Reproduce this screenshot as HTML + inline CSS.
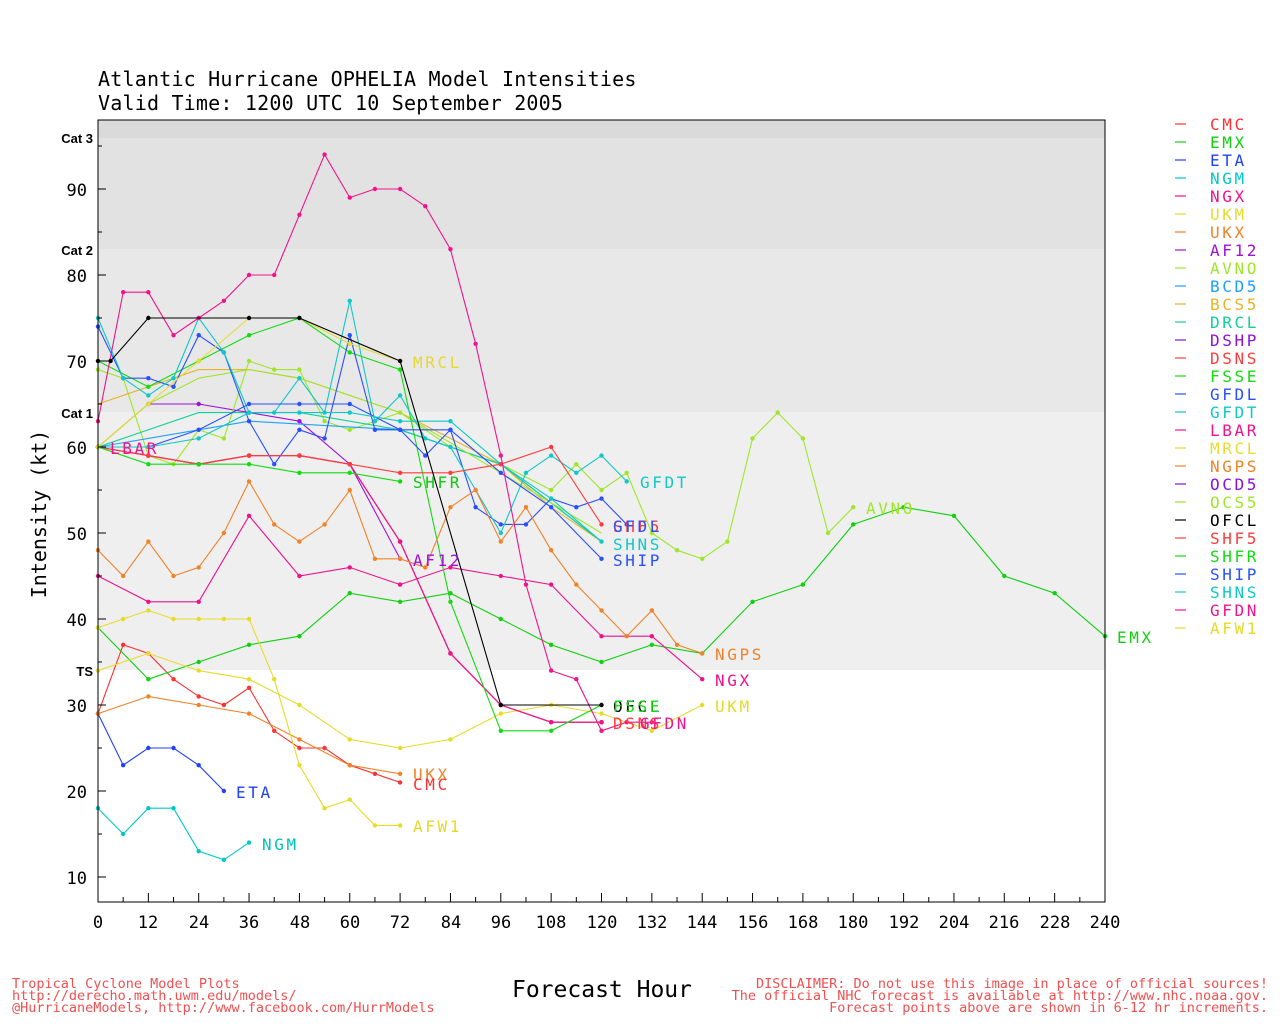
<!DOCTYPE html>
<html><head><meta charset="utf-8"><style>
body{margin:0;background:#fff}
svg{display:block;font-family:"DejaVu Sans Mono","Liberation Mono",monospace}
.lb{font-size:16px;letter-spacing:2.6px}
</style></head><body>
<svg id="s" width="1280" height="1024" xmlns="http://www.w3.org/2000/svg">
<rect width="1280" height="1024" fill="#fff"/>
<rect x="98" y="412" width="1007" height="258" fill="#efefef"/>
<rect x="98" y="249" width="1007" height="163" fill="#e8e8e8"/>
<rect x="98" y="138" width="1007" height="111" fill="#e2e2e2"/>
<rect x="98" y="120" width="1007" height="18" fill="#dadada"/>
<g id="lines"></g>
<rect x="98" y="120" width="1007" height="782" fill="none" stroke="#000" stroke-width="1"/>
<g font-size="17" fill="#000" text-anchor="end">
<text x="87" y="884">10</text><text x="87" y="798">20</text><text x="87" y="712">30</text><text x="87" y="626">40</text>
<text x="87" y="540">50</text><text x="87" y="454">60</text><text x="87" y="368">70</text><text x="87" y="282">80</text><text x="87" y="196">90</text>
</g>
<g font-size="13" font-weight="bold" text-anchor="end" font-family="Liberation Sans,sans-serif">
<text x="93" y="143">Cat 3</text><text x="93" y="255">Cat 2</text><text x="93" y="418">Cat 1</text><text x="93" y="676">TS</text>
</g>
<g id="ticks"></g>
<text x="98" y="86" font-size="20" letter-spacing="0.2">Atlantic Hurricane OPHELIA Model Intensities</text>
<text x="98" y="110" font-size="20" letter-spacing="0.2">Valid Time: 1200 UTC 10 September 2005</text>
<text transform="translate(46,514) rotate(-90)" font-size="20" text-anchor="middle">Intensity (kt)</text>
<text x="602" y="997" font-size="23" text-anchor="middle">Forecast Hour</text>
<g font-size="13.5" fill="#f05050">
<text x="12" y="988">Tropical Cyclone Model Plots</text>
<text x="12" y="1000">http://derecho.math.uwm.edu/models/</text>
<text x="12" y="1012">@HurricaneModels, http://www.facebook.com/HurrModels</text>
<g text-anchor="end"><text x="1268" y="988">DISCLAIMER: Do not use this image in place of official sources!</text>
<text x="1268" y="1000">The official NHC forecast is available at http://www.nhc.noaa.gov.</text>
<text x="1268" y="1012">Forecast points above are shown in 6-12 hr increments.</text></g>
</g>
<g class="lb">
<text x="236" y="798" fill="#2040ff">ETA</text>
<text x="262" y="850" fill="#00c0c0">NGM</text>
<text x="413" y="780" fill="#f08228">UKX</text>
<text x="413" y="790" fill="#ff3030">CMC</text>
<text x="413" y="832" fill="#e6d828">AFW1</text>
<text x="413" y="566" fill="#a010dc">AF12</text>
<text x="413" y="368" fill="#e6d832">MRCL</text>
<text x="413" y="488" fill="#10c810">SHFR</text>
<text x="110" y="454" fill="#f0148c">LBAR</text>
<text x="613" y="532" fill="#ff3c3c">SHF5</text>
<text x="613" y="532" fill="#2850ff">GFDL</text>
<text x="613" y="550" fill="#10c8c8">SHNS</text>
<text x="613" y="566" fill="#2850ff">SHIP</text>
<text x="640" y="488" fill="#10c8c8">GFDT</text>
<text x="613" y="712" fill="#000">OFCL</text>
<text x="613" y="712" fill="#10dc10">FSSE</text>
<text x="613" y="729" fill="#ff3c3c">DSNS</text>
<text x="640" y="729" fill="#f0148c">GFDN</text>
<text x="715" y="660" fill="#f08228">NGPS</text>
<text x="715" y="686" fill="#f0108c">NGX</text>
<text x="715" y="712" fill="#e6d828">UKM</text>
<text x="866" y="514" fill="#a0e628">AVNO</text>
<text x="1117" y="643" fill="#10d010">EMX</text>
</g>
</svg>
<script>
const X=h=>98+h*1007/240, Y=v=>877-(v-10)*8.6;
const C={CMC:"#ff3030",EMX:"#10d010",ETA:"#2040ff",NGM:"#00c8c8",NGX:"#f0108c",UKM:"#e6dc28",UKX:"#f08228",AF12:"#a010dc",AVNO:"#a0e628",BCD5:"#1ea0ff",BCS5:"#e6b428",DRCL:"#10d296",DSHP:"#8c10dc",DSNS:"#ff3c3c",FSSE:"#10dc10",GFDL:"#2850ff",GFDT:"#10c8c8",LBAR:"#f0148c",MRCL:"#e6dc32",NGPS:"#f08228",OCD5:"#8c10dc",OCS5:"#a0e628",OFCL:"#000",SHF5:"#ff3c3c",SHFR:"#10dc10",SHIP:"#2850ff",SHNS:"#10c8c8",GFDN:"#f0148c",AFW1:"#e6dc28"};
const D={
CMC:[[0,29],[6,37],[12,36],[18,33],[24,31],[30,30],[36,32],[42,27],[48,25],[54,25],[60,23],[66,22],[72,21]],
EMX:[[0,39],[12,33],[24,35],[36,37],[48,38],[60,43],[72,42],[84,43],[96,40],[108,37],[120,35],[132,37],[144,36],[156,42],[168,44],[180,51],[192,53],[204,52],[216,45],[228,43],[240,38]],
ETA:[[0,29],[6,23],[12,25],[18,25],[24,23],[30,20]],
NGM:[[0,18],[6,15],[12,18],[18,18],[24,13],[30,12],[36,14]],
NGX:[[0,45],[12,42],[24,42],[36,52],[48,45],[60,46],[72,44],[84,46],[96,45],[108,44],[120,38],[132,38],[144,33]],
UKM:[[0,34],[12,36],[24,34],[36,33],[48,30],[60,26],[72,25],[84,26],[96,29],[108,30],[120,29],[132,27],[144,30]],
UKX:[[0,29],[12,31],[24,30],[36,29],[48,26],[60,23],[72,22]],
AF12:[[0,60],[12,65],[24,65],[36,64],[48,63],[60,58],[72,47]],
AVNO:[[0,69],[6,68],[12,59],[18,58],[24,62],[30,61],[36,70],[42,69],[48,69],[54,63],[60,62],[66,63],[72,64],[84,60],[96,58],[108,55],[114,58],[120,55],[126,57],[132,50],[138,48],[144,47],[150,49],[156,61],[162,64],[168,61],[174,50],[180,53]],
BCD5:[[0,60],[36,63],[72,62],[96,58],[120,49]],
BCS5:[[0,65],[12,67],[24,69],[36,69],[48,68],[60,66],[72,64],[84,61],[96,58],[108,53],[120,49]],
DRCL:[[0,60],[24,64],[48,64],[72,62],[96,58],[120,49]],
OCS5:[[0,60],[12,65],[24,68],[36,69],[48,68],[72,64],[96,57],[120,50]],
DSHP:[[0,60],[12,59],[24,58],[36,59],[48,59],[60,58],[72,49],[84,36],[96,30],[108,28],[120,28]],
DSNS:[[0,60],[12,59],[24,58],[36,59],[48,59],[60,58],[72,49],[84,36],[96,30],[108,28],[120,28]],
LBAR:[[0,60],[12,59],[24,58],[36,59],[48,59],[60,58],[72,49],[84,36],[96,30],[108,28],[120,28]],
FSSE:[[0,70],[12,67],[24,70],[36,73],[48,75],[60,71],[72,69],[84,42],[96,27],[108,27],[120,30]],
GFDL:[[0,74],[6,68],[12,68],[18,67],[24,73],[30,71],[36,63],[42,58],[48,62],[54,61],[60,73],[66,62],[72,62],[78,59],[84,62],[90,53],[96,51],[102,51],[108,54],[114,53],[120,54],[126,51]],
GFDT:[[0,75],[6,68],[12,66],[18,68],[24,75],[30,71],[36,64],[42,64],[48,68],[54,64],[60,77],[66,63],[72,66],[78,61],[84,60],[90,55],[96,50],[102,57],[108,59],[114,57],[120,59],[126,56]],
SHIP:[[0,60],[12,60],[24,62],[36,65],[48,65],[60,65],[72,62],[84,62],[96,57],[108,53],[120,47]],
SHNS:[[0,60],[12,60],[24,61],[36,64],[48,64],[60,64],[72,63],[84,63],[96,58],[108,54],[120,49]],
SHF5:[[0,60],[12,59],[24,58],[36,59],[48,59],[60,58],[72,57],[84,57],[96,58],[108,60],[120,51]],
SHFR:[[0,60],[12,58],[24,58],[36,58],[48,57],[60,57],[72,56]],
MRCL:[[0,60],[12,65],[24,70],[36,75],[48,75],[60,72],[72,70]],
NGPS:[[0,48],[6,45],[12,49],[18,45],[24,46],[30,50],[36,56],[42,51],[48,49],[54,51],[60,55],[66,47],[72,47],[78,46],[84,53],[90,55],[96,49],[102,53],[108,48],[114,44],[120,41],[126,38],[132,41],[138,37],[144,36]],
AFW1:[[0,39],[6,40],[12,41],[18,40],[24,40],[30,40],[36,40],[42,33],[48,23],[54,18],[60,19],[66,16],[72,16]],
GFDN:[[0,63],[6,78],[12,78],[18,73],[24,75],[30,77],[36,80],[42,80],[48,87],[54,94],[60,89],[66,90],[72,90],[78,88],[84,83],[90,72],[96,59],[102,44],[108,34],[114,33],[120,27],[126,28],[132,28]],
OFCL:[[0,70],[3,70],[12,75],[36,75],[48,75],[72,70],[96,30],[120,30]]
};
const ns="http://www.w3.org/2000/svg",g=document.getElementById("lines");
for(const k in D){const p=D[k].map(([h,v])=>X(h).toFixed(1)+","+Y(v).toFixed(1)).join(" ");
const l=document.createElementNS(ns,"polyline");l.setAttribute("points",p);l.setAttribute("fill","none");l.setAttribute("stroke",C[k]);l.setAttribute("stroke-width","1.1");g.appendChild(l);
const noDot=["BCD5","BCS5","DRCL","OCS5"].includes(k);
if(!noDot)D[k].forEach(([h,v])=>{const c=document.createElementNS(ns,"circle");c.setAttribute("cx",X(h));c.setAttribute("cy",Y(v));c.setAttribute("r","2.2");c.setAttribute("fill",C[k]);g.appendChild(c);});}
const t=document.getElementById("ticks");
for(let h=0;h<=240;h+=6){const l=document.createElementNS(ns,"line");l.setAttribute("x1",X(h));l.setAttribute("x2",X(h));l.setAttribute("y1",902);l.setAttribute("y2",h%12?897:893);l.setAttribute("stroke","#000");t.appendChild(l);}
for(let v=10;v<=95;v+=5){const l=document.createElementNS(ns,"line");l.setAttribute("x1",98);l.setAttribute("x2",v%10?102:106);l.setAttribute("y1",Y(v));l.setAttribute("y2",Y(v));l.setAttribute("stroke","#000");t.appendChild(l);}
</script>
<svg style="position:absolute;left:0;top:0" width="1280" height="1024" xmlns="http://www.w3.org/2000/svg" font-family="DejaVu Sans Mono, Liberation Mono, monospace">
<g font-size="17" text-anchor="middle">
<text x="98" y="928">0</text><text x="148" y="928">12</text><text x="199" y="928">24</text><text x="249" y="928">36</text><text x="300" y="928">48</text><text x="350" y="928">60</text><text x="400" y="928">72</text><text x="451" y="928">84</text><text x="501" y="928">96</text><text x="551" y="928">108</text><text x="602" y="928">120</text><text x="652" y="928">132</text><text x="702" y="928">144</text><text x="753" y="928">156</text><text x="803" y="928">168</text><text x="853" y="928">180</text><text x="904" y="928">192</text><text x="954" y="928">204</text><text x="1004" y="928">216</text><text x="1055" y="928">228</text><text x="1105" y="928">240</text>
</g>
<g font-size="16" letter-spacing="2.6">
<g stroke-width="1.2">
<line x1="1175" x2="1186" y1="124" y2="124" stroke="#ff3030"/><line x1="1175" x2="1186" y1="142" y2="142" stroke="#10d010"/><line x1="1175" x2="1186" y1="160" y2="160" stroke="#2040ff"/><line x1="1175" x2="1186" y1="178" y2="178" stroke="#00c8c8"/><line x1="1175" x2="1186" y1="196" y2="196" stroke="#f0108c"/><line x1="1175" x2="1186" y1="214" y2="214" stroke="#e6dc28"/><line x1="1175" x2="1186" y1="232" y2="232" stroke="#f08228"/><line x1="1175" x2="1186" y1="250" y2="250" stroke="#a010dc"/><line x1="1175" x2="1186" y1="268" y2="268" stroke="#a0e628"/><line x1="1175" x2="1186" y1="286" y2="286" stroke="#1ea0ff"/><line x1="1175" x2="1186" y1="304" y2="304" stroke="#e6b428"/><line x1="1175" x2="1186" y1="322" y2="322" stroke="#10d296"/><line x1="1175" x2="1186" y1="340" y2="340" stroke="#8c10dc"/><line x1="1175" x2="1186" y1="358" y2="358" stroke="#ff3c3c"/><line x1="1175" x2="1186" y1="376" y2="376" stroke="#10dc10"/><line x1="1175" x2="1186" y1="394" y2="394" stroke="#2850ff"/><line x1="1175" x2="1186" y1="412" y2="412" stroke="#10c8c8"/><line x1="1175" x2="1186" y1="430" y2="430" stroke="#f0148c"/><line x1="1175" x2="1186" y1="448" y2="448" stroke="#e6dc32"/><line x1="1175" x2="1186" y1="466" y2="466" stroke="#f08228"/><line x1="1175" x2="1186" y1="484" y2="484" stroke="#8c10dc"/><line x1="1175" x2="1186" y1="502" y2="502" stroke="#a0e628"/><line x1="1175" x2="1186" y1="520" y2="520" stroke="#000"/><line x1="1175" x2="1186" y1="538" y2="538" stroke="#ff3c3c"/><line x1="1175" x2="1186" y1="556" y2="556" stroke="#10dc10"/><line x1="1175" x2="1186" y1="574" y2="574" stroke="#2850ff"/><line x1="1175" x2="1186" y1="592" y2="592" stroke="#10c8c8"/><line x1="1175" x2="1186" y1="610" y2="610" stroke="#f0148c"/><line x1="1175" x2="1186" y1="628" y2="628" stroke="#e6dc28"/>
</g>
<text x="1210" y="130" fill="#ff3030">CMC</text><text x="1210" y="148" fill="#10d010">EMX</text><text x="1210" y="166" fill="#2040ff">ETA</text><text x="1210" y="184" fill="#00c8c8">NGM</text><text x="1210" y="202" fill="#f0108c">NGX</text><text x="1210" y="220" fill="#e6dc28">UKM</text><text x="1210" y="238" fill="#f08228">UKX</text><text x="1210" y="256" fill="#a010dc">AF12</text><text x="1210" y="274" fill="#a0e628">AVNO</text><text x="1210" y="292" fill="#1ea0ff">BCD5</text><text x="1210" y="310" fill="#e6b428">BCS5</text><text x="1210" y="328" fill="#10d296">DRCL</text><text x="1210" y="346" fill="#8c10dc">DSHP</text><text x="1210" y="364" fill="#ff3c3c">DSNS</text><text x="1210" y="382" fill="#10dc10">FSSE</text><text x="1210" y="400" fill="#2850ff">GFDL</text><text x="1210" y="418" fill="#10c8c8">GFDT</text><text x="1210" y="436" fill="#f0148c">LBAR</text><text x="1210" y="454" fill="#e6dc32">MRCL</text><text x="1210" y="472" fill="#f08228">NGPS</text><text x="1210" y="490" fill="#8c10dc">OCD5</text><text x="1210" y="508" fill="#a0e628">OCS5</text><text x="1210" y="526" fill="#000">OFCL</text><text x="1210" y="544" fill="#ff3c3c">SHF5</text><text x="1210" y="562" fill="#10dc10">SHFR</text><text x="1210" y="580" fill="#2850ff">SHIP</text><text x="1210" y="598" fill="#10c8c8">SHNS</text><text x="1210" y="616" fill="#f0148c">GFDN</text><text x="1210" y="634" fill="#e6dc28">AFW1</text>
</g>
</svg>
</body></html>
